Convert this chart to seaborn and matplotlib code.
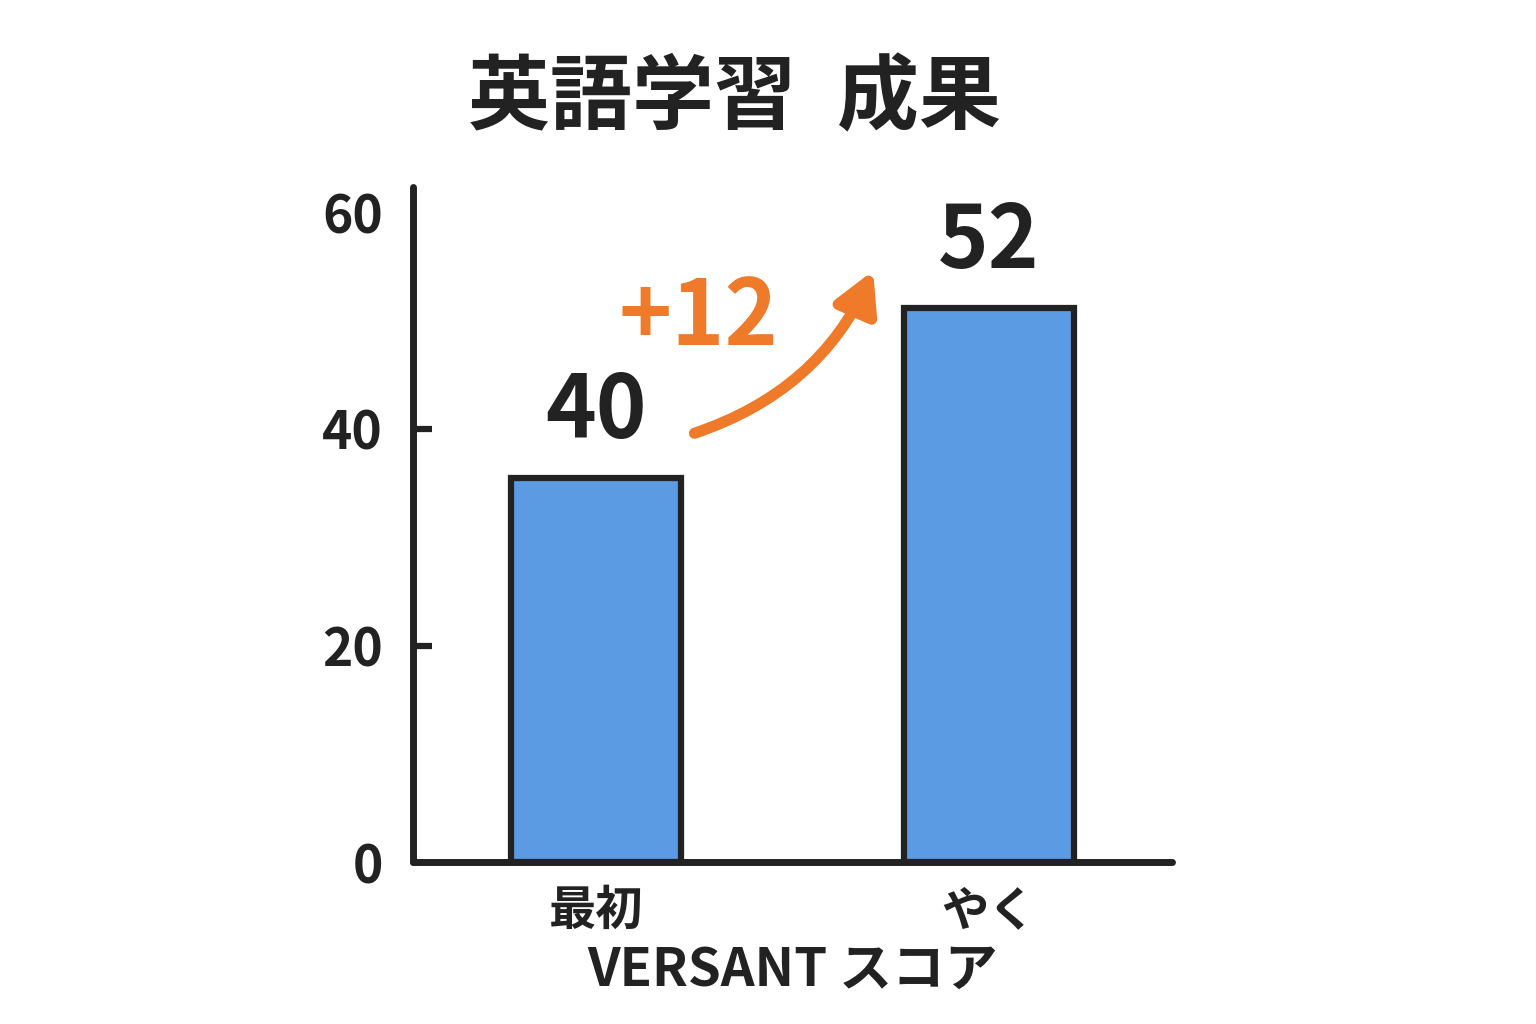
import matplotlib.pyplot as plt
import seaborn as sns

# Data
stages = ["最初", "やく"]
bar_heights = [35.5, 51.2]      # drawn bar heights
bar_labels = ["40", "52"]       # numbers printed above the bars
gain_label = "+12"
y_ticks = [0, 20, 40, 60]

sns.set_theme(style="white")
plt.rcParams['font.family'] = ['Noto Sans CJK JP', 'DejaVu Sans']

ink = "#222222"
blue = "#5B9BE4"
orange = "#EE7A2A"

fig = plt.figure(figsize=(15.36, 10.24), dpi=100)
ax = fig.add_axes([0.269, 0.158, 0.494, 0.659])

sns.barplot(x=stages, y=bar_heights, color=blue, saturation=1, width=0.433,
            edgecolor=ink, linewidth=4.5, ax=ax)

ax.set_xlim(-0.466, 1.466)
ax.set_ylim(0, 62.3)

# Spines
for side in ["top", "right"]:
    ax.spines[side].set_visible(False)
for side in ["left", "bottom"]:
    ax.spines[side].set_linewidth(5)
    ax.spines[side].set_color(ink)
    ax.spines[side].set_capstyle("round")

# Ticks
ax.set_yticks(y_ticks)
ax.tick_params(axis="y", direction="in", length=14, width=4.5, color=ink,
               labelsize=37, labelcolor=ink, pad=22, left=True)
for t in ax.yaxis.get_major_ticks():
    t.label1.set_fontweight("bold")
ticks = ax.yaxis.get_major_ticks()
ticks[0].tick1line.set_visible(False)
ticks[-1].tick1line.set_visible(False)

ax.tick_params(axis="x", length=0, labelsize=34, labelcolor=ink, pad=18)
for lab in ax.get_xticklabels():
    lab.set_fontweight("bold")

ax.set_xlabel("VERSANT スコア", fontsize=38, color=ink, fontweight="bold", labelpad=6)
ax.set_ylabel("")

# Bar value labels
ax.bar_label(ax.containers[0], labels=bar_labels, padding=15,
             fontsize=62, fontweight="bold", color=ink)

# Curved gain arrow
ax.annotate("", xy=(0.705, 54.6), xytext=(0.25, 39.6),
            arrowprops=dict(arrowstyle="-|>,head_length=2.0,head_width=1.1",
                            connectionstyle="arc3,rad=0.22",
                            color=orange, lw=8, capstyle="round",
                            shrinkA=0, shrinkB=0))
ax.text(0.26, 50.2, gain_label, fontsize=65, fontweight="bold", color=orange,
        ha="center", va="center")

fig.text(0.478, 0.903, "英語学習\u2002成果", fontsize=59, fontweight="bold",
         color=ink, ha="center", va="center")

fig.savefig("out.png", dpi=100)
